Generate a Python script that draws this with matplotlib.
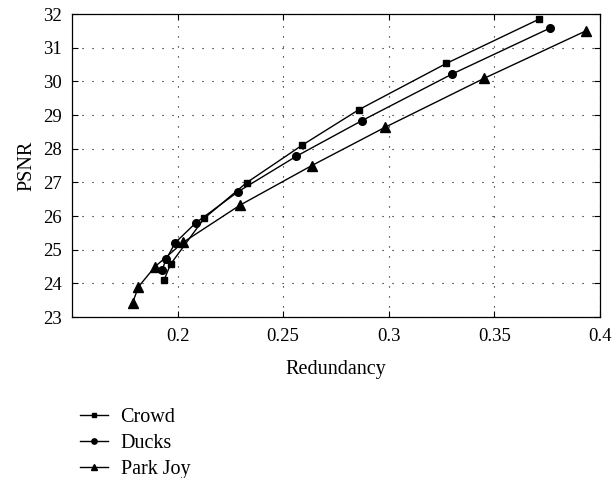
import matplotlib
matplotlib.use("Agg")
import matplotlib.pyplot as plt

plt.rcParams['font.family'] = ['Liberation Serif', 'DejaVu Serif']

# Rate-distortion curves: redundancy vs PSNR (dB)
crowd_x = [0.3713, 0.3272, 0.2859, 0.2589, 0.2327, 0.2126, 0.1967, 0.1936]
crowd_y = [31.85, 30.53, 29.16, 28.10, 26.99, 25.93, 24.57, 24.10]

ducks_x = [0.3763, 0.3301, 0.2872, 0.2561, 0.2286, 0.2087, 0.1988, 0.1947, 0.1926]
ducks_y = [31.58, 30.22, 28.83, 27.77, 26.72, 25.80, 25.20, 24.72, 24.40]

park_x = [0.3934, 0.3452, 0.2981, 0.2636, 0.2295, 0.2027, 0.1894, 0.1815, 0.1787]
park_y = [31.50, 30.09, 28.63, 27.50, 26.32, 25.22, 24.50, 23.90, 23.42]

series_names = ["Crowd", "Ducks", "Park Joy"]
x_ticks = [0.2, 0.25, 0.3, 0.35, 0.4]
x_tick_labels = ["0.2", "0.25", "0.3", "0.35", "0.4"]
y_ticks = list(range(23, 33))

fig = plt.figure(figsize=(6.12, 4.78), dpi=100)
ax = fig.add_axes([0.1176, 0.3368, 0.8627, 0.6339])

ax.plot(crowd_x, crowd_y, color='black', lw=1.0, marker='s', ms=4.5, label=series_names[0])
ax.plot(ducks_x, ducks_y, color='black', lw=1.0, marker='o', ms=5.5, label=series_names[1])
ax.plot(park_x, park_y, color='black', lw=1.0, marker='^', ms=6.5, label=series_names[2])

ax.set_xlim(0.15, 0.4)
ax.set_ylim(23, 32)
ax.set_xticks(x_ticks)
ax.set_xticklabels(x_tick_labels)
ax.set_yticks(y_ticks)
ax.tick_params(direction='in', top=True, right=True, length=4, width=0.8,
               labelsize=13.5)
ax.tick_params(axis='x', pad=8)
ax.tick_params(axis='y', pad=7)
ax.grid(True, color='black', linestyle=(0, (1, 8)), linewidth=0.8)
for s in ax.spines.values():
    s.set_linewidth(0.9)

ax.set_xlabel("Redundancy", fontsize=14.5, labelpad=11)
ax.set_ylabel("PSNR", fontsize=14.5, labelpad=5)

handles, labels = ax.get_legend_handles_labels()
fig.legend(handles, labels, loc='upper left', bbox_to_anchor=(0.118, 0.163),
           frameon=False, fontsize=14.5, handlelength=1.4, handletextpad=0.6,
           labelspacing=0.33, borderaxespad=0, markerscale=0.7)

fig.savefig("out.png", dpi=100)
